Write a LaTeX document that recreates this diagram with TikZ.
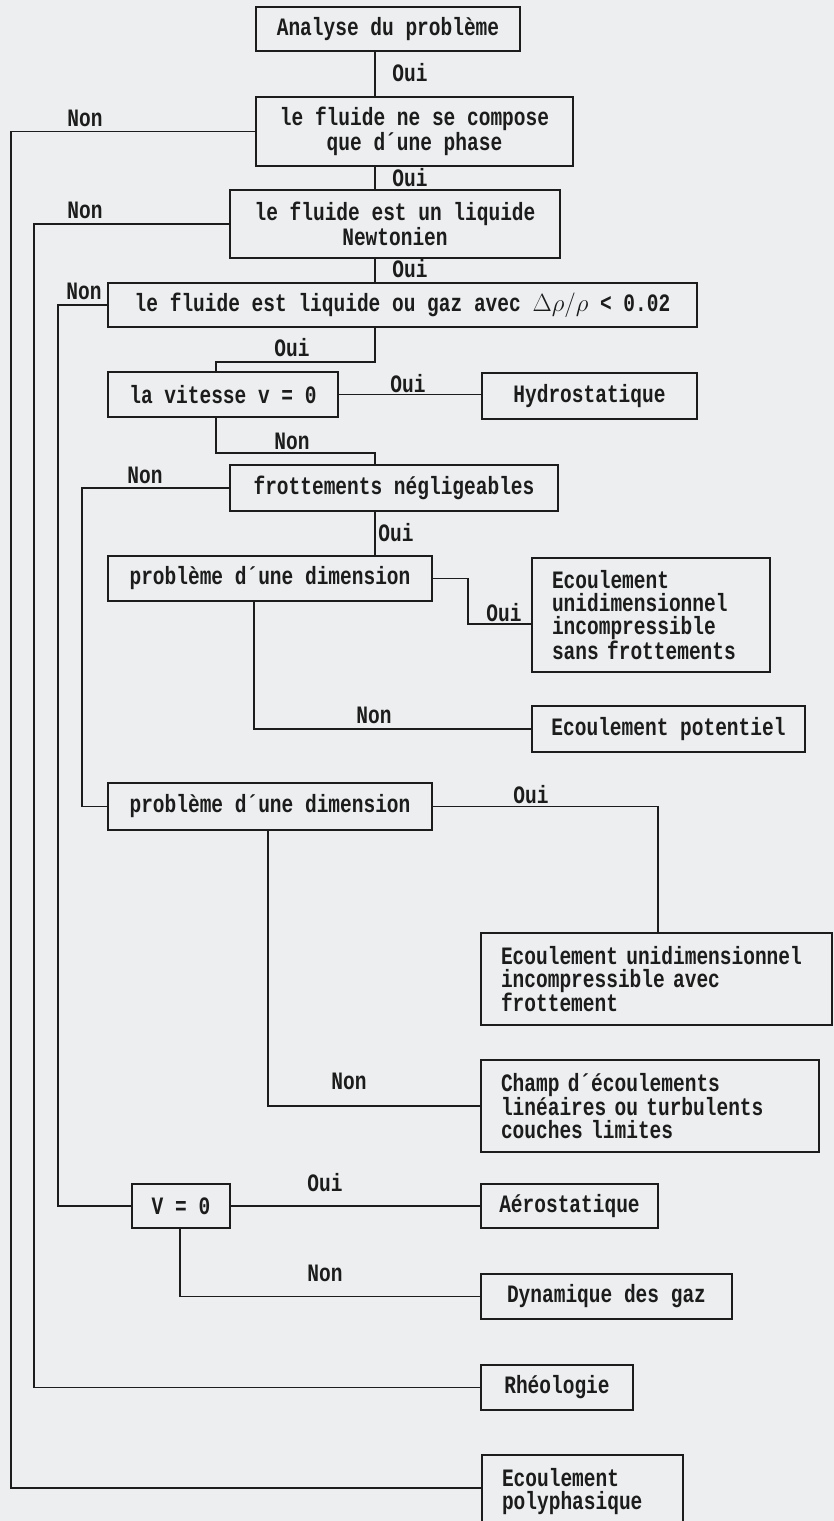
\documentclass[tikz,border=0pt]{standalone}
\usepackage{fontspec}
\newfontfamily\chartfont{Liberation Mono}[FakeStretch=0.78]
\definecolor{paper}{HTML}{ECEEEF}
\definecolor{ink}{HTML}{1C1C1C}
\begin{document}
\begin{tikzpicture}[x=1pt,y=-1pt,
  every node/.style={font=\chartfont\bfseries\fontsize{25}{23}\selectfont, text=ink},
  box/.style={draw=ink, line width=1.6pt, inner sep=0pt, align=center},
  lbox/.style={draw=ink, line width=1.6pt, inner xsep=20pt, inner ysep=0pt, align=left},
  link/.style={draw=ink, line width=1.6pt},
  tag/.style={inner sep=0pt}]

% page and background
\fill[paper] (0,0) rectangle (834,1521);
\useasboundingbox (0,0) rectangle (834,1521);

% decision and result boxes
\node[box, minimum width=264pt, minimum height=44pt] (A) at (388,29) {Analyse du problème};
\node[box, minimum width=317pt, minimum height=69pt] (B) at (414.5,131.5) {le fluide ne se compose\\que d´une phase};
\node[box, minimum width=330pt, minimum height=68pt] (C) at (395,224) {le fluide est un liquide\\Newtonien};
\node[box, minimum width=589pt, minimum height=44pt] (D) at (402.5,305) {le fluide est liquide ou gaz avec $\Delta\rho/\rho$ < 0.02};
\node[box, minimum width=230pt, minimum height=45pt] (E) at (223,394.5) {la vitesse v = 0};
\node[box, minimum width=215pt, minimum height=46pt] (Hy) at (589.5,396) {Hydrostatique};
\node[box, minimum width=328pt, minimum height=46pt] (F) at (394,488) {frottements négligeables};
\node[box, minimum width=324pt, minimum height=45pt] (G1) at (270,578.5) {problème d´une dimension};
\node[lbox, text width=198pt, minimum height=114pt] (H) at (651,615) {Ecoulement\\unidimensionnel\\incompressible\\sans frottements};
\node[box, minimum width=273pt, minimum height=46pt] (I) at (668.5,729) {Ecoulement potentiel};
\node[box, minimum width=324pt, minimum height=47pt] (G2) at (270,806.5) {problème d´une dimension};
\node[lbox, text width=311pt, minimum height=92pt] (J) at (656.5,979) {Ecoulement unidimensionnel\\incompressible avec\\frottement};
\node[lbox, text width=298pt, minimum height=92pt] (K) at (650,1106) {Champ d´écoulements\\linéaires ou turbulents\\couches limites};
\node[box, minimum width=98pt, minimum height=44pt] (L) at (181,1206) {V = 0};
\node[box, minimum width=177pt, minimum height=44pt] (M) at (569.5,1206) {Aérostatique};
\node[box, minimum width=251pt, minimum height=45pt] (N) at (606.5,1296.5) {Dynamique des gaz};
\node[box, minimum width=152pt, minimum height=45pt] (O) at (557,1387.5) {Rhéologie};
\node[lbox, text width=161pt, minimum height=74pt] (P) at (582.5,1492) {Ecoulement\\polyphasique};

% bend positions of the connectors
\coordinate (spine) at (375,0);
\coordinate (rail1) at (11,0);
\coordinate (rail2) at (34,0);
\coordinate (rail3) at (58,0);
\coordinate (rail4) at (82,0);
\coordinate (eX) at (216,0);
\coordinate (hX) at (468,0);
\coordinate (iX) at (254,0);
\coordinate (jX) at (658,0);
\coordinate (kX) at (268,0);
\coordinate (nX) at (180,0);
\coordinate (hIn) at ([yshift=-9pt]H.west);
\coordinate (pIn) at ([yshift=4pt]P.west);

% main "Oui" path
\draw[link] (A.south -| spine) -- (B.north -| spine);
\draw[link] (B.south -| spine) -- (C.north -| spine);
\draw[link] (C.south -| spine) -- (D.north -| spine);
\draw[link] (D.south -| spine) -- ++(0,34) -| (E.north -| eX);
\draw[link] (E.east) -- (E.east -| Hy.west);
\draw[link] (E.south -| eX) -- ++(0,35) -| (F.north -| spine);
\draw[link] (F.south -| spine) -- (G1.north -| spine);
\draw[link] (G1.east) -| (hIn -| hX) -- (hIn);
\draw[link] (G1.south -| iX) |- (I.west);
\draw[link] (G2.east) -| (J.north -| jX);
\draw[link] (G2.south -| kX) |- (K.west);
\draw[link] (L.east) -- (M.west);
\draw[link] (L.south -| nX) |- (N.west);

% "Non" rails on the left
\draw[link] (B.west) -| (rail1 |- pIn) -- (pIn);
\draw[link] (C.west) -| (rail2 |- O.west) -- (O.west);
\draw[link] (D.west) -| (rail3 |- L.west) -- (L.west);
\draw[link] (F.west) -| (rail4 |- G2.west) -- (G2.west);

% branch labels
\node[tag] (o1) at (410,73) {Oui};
\node[tag] (o2) at (410,178) {Oui};
\node[tag] (o3) at (410,269) {Oui};
\node[tag] (n1) at (85,118) {Non};
\node[tag] (n2) at (85,210) {Non};
\node[tag] (n3) at (84,291) {Non};
\node[tag] (o4) at (292,348) {Oui};
\node[tag] (o5) at (408,384) {Oui};
\node[tag] (n4) at (292,441) {Non};
\node[tag] (n5) at (145,475) {Non};
\node[tag] (o6) at (396,533) {Oui};
\node[tag] (o7) at (504,613) {Oui};
\node[tag] (n6) at (374,715) {Non};
\node[tag] (o8) at (531,795) {Oui};
\node[tag] (n7) at (349,1081) {Non};
\node[tag] (o9) at (325,1183) {Oui};
\node[tag] (n8) at (325,1273) {Non};
\end{tikzpicture}
\end{document}
